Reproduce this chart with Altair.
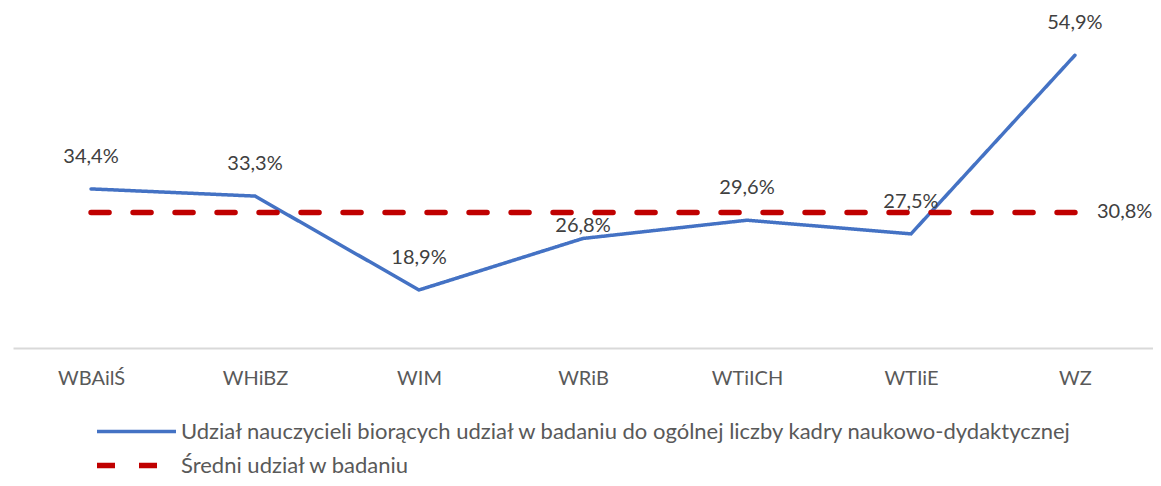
import altair as alt
import pandas as pd

categories = ["WBAilŚ", "WHiBZ", "WIM", "WRiB", "WTiICH", "WTIiE", "WZ"]
share = [34.4, 33.3, 18.9, 26.8, 29.6, 27.5, 54.9]
mean_share = 30.8
series_names = [
    "Udział nauczycieli biorących udział w badaniu do ogólnej liczby kadry naukowo-dydaktycznej",
    "Średni udział w badaniu",
]
series_colors = ["#4472C4", "#C00000"]


def fmt(v):
    return f"{v:.1f}%".replace(".", ",")


rows = []
for c, v in zip(categories, share):
    rows.append({"cat": c, "value": v, "series": series_names[0], "label": fmt(v)})
for c in categories:
    rows.append({"cat": c, "value": mean_share, "series": series_names[1], "label": fmt(mean_share)})
df = pd.DataFrame(rows)

FONT = "Lato"

x_scale = alt.Scale(type="point", padding=0.476)

x = alt.X(
    "cat:N",
    sort=categories,
    title=None,
    scale=x_scale,
    axis=alt.Axis(
        domainColor="#D9D9D9",
        domainWidth=2,
        ticks=False,
        labelFontSize=20,
        labelColor="#595959",
        labelPadding=20,
        labelAngle=0,
        labelFont=FONT,
    ),
)
y = alt.Y("value:Q", scale=alt.Scale(domain=[10, 60]), axis=None)

lines = alt.Chart(df).mark_line(strokeCap="round").encode(
    x=x,
    y=y,
    color=alt.Color(
        "series:N",
        sort=series_names,
        scale=alt.Scale(domain=series_names, range=series_colors),
        title=None,
        legend=alt.Legend(
            orient="none",
            legendX=101,
            legendY=388,
            direction="vertical",
            symbolType="M-2,0H2",
            symbolSize=1560,
            labelFontSize=22,
            labelFont=FONT,
            labelColor="#595959",
            labelOffset=22,
            rowPadding=-6,
            labelLimit=1100,
        ),
    ),
    strokeDash=alt.StrokeDash(
        "series:N",
        sort=series_names,
        scale=alt.Scale(domain=series_names, range=[[1, 0], [18, 24]]),
        title=None,
        legend=None,
    ),
    strokeWidth=alt.StrokeWidth(
        "series:N",
        sort=series_names,
        scale=alt.Scale(domain=series_names, range=[3.5, 5.5]),
        title=None,
        legend=None,
    ),
)

blue_only = alt.datum.series == series_names[0]
near_label = alt.datum.cat == "WRiB"

x_plain = alt.X("cat:N", sort=categories, scale=x_scale)

labels = alt.Chart(df).transform_filter(blue_only).transform_filter(
    ~near_label
).mark_text(dy=-32, fontSize=20, font=FONT, color="#404040").encode(
    x=x_plain,
    y=y,
    text="label:N",
)

labels_near = alt.Chart(df).transform_filter(blue_only).transform_filter(
    near_label
).mark_text(dy=-12, fontSize=20, font=FONT, color="#404040").encode(
    x=x_plain,
    y=y,
    text="label:N",
)

mean_label = alt.Chart(df).transform_filter(
    (alt.datum.series == series_names[1]) & (alt.datum.cat == categories[-1])
).mark_text(align="left", dx=22, fontSize=20, font=FONT, color="#404040").encode(
    x=x_plain,
    y=y,
    text="label:N",
)

chart = (
    alt.layer(lines, labels, labels_near, mean_label)
    .properties(
        width=1140,
        height=326,
        autosize=alt.AutoSizeParams(type="none"),
        padding={"left": 5, "top": 14, "right": 0, "bottom": 130},
    )
    .configure_view(stroke=None)
)

chart.save("out.html", embed_options={"renderer": "svg", "actions": False})
